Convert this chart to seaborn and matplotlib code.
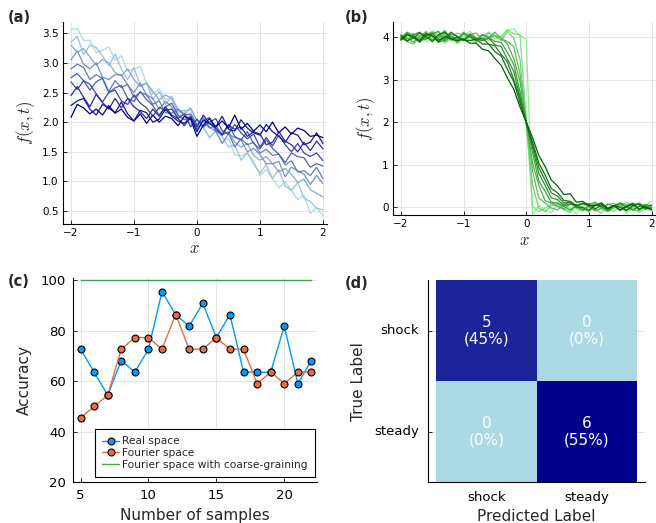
import numpy as np
import pandas as pd
import matplotlib
matplotlib.use("Agg")
import matplotlib.pyplot as plt
import seaborn as sns
from matplotlib.colors import LinearSegmentedColormap

# ---------------------------------
# Data
# ---------------------------------

x_grid = np.linspace(-2, 2, 41)

# (a) diffusion runs, light -> dark
a1 = [3.56, 3.58, 3.38, 3.38, 3.17, 3.21, 3.27, 3.05, 3.12, 2.86, 2.90, 2.94, 2.66, 2.48, 2.56, 2.38, 2.41, 2.15, 2.20, 2.20,
      1.94, 1.94, 1.74, 1.85, 1.65, 1.73, 1.45, 1.43, 1.48, 1.34, 1.10, 1.20, 1.04, 0.89, 0.99, 0.85, 0.69, 0.77, 0.46, 0.56, 0.42]
a2 = [3.35, 3.45, 3.14, 3.30, 3.26, 3.12, 2.95, 3.15, 2.90, 2.72, 2.92, 2.62, 2.66, 2.38, 2.52, 2.30, 2.44, 2.18, 2.20, 1.94,
      2.05, 1.90, 1.74, 1.85, 1.76, 1.58, 1.62, 1.36, 1.48, 1.30, 1.14, 1.28, 1.05, 1.20, 0.92, 0.85, 0.98, 0.72, 0.66, 0.55, 0.52]
a3 = [3.30, 3.18, 3.24, 3.10, 2.96, 3.06, 3.00, 2.84, 2.78, 2.90, 2.72, 2.60, 2.66, 2.52, 2.38, 2.46, 2.40, 2.22, 2.14, 2.24,
      2.02, 1.94, 2.00, 1.86, 1.78, 1.84, 1.66, 1.58, 1.64, 1.44, 1.36, 1.42, 1.30, 1.16, 1.22, 1.12, 0.98, 1.04, 0.86, 0.80, 0.74]
a4 = [3.05, 3.20, 2.98, 2.90, 3.00, 2.76, 2.72, 2.80, 2.80, 2.62, 2.50, 2.66, 2.46, 2.40, 2.22, 2.35, 2.26, 2.08, 2.14, 2.12,
      1.95, 2.08, 1.92, 1.84, 1.64, 1.80, 1.74, 1.70, 1.50, 1.56, 1.45, 1.30, 1.30, 1.34, 1.08, 1.24, 1.18, 1.12, 0.95, 1.10, 0.96]
a5 = [2.90, 2.98, 2.92, 2.72, 2.80, 2.74, 2.52, 2.70, 2.58, 2.64, 2.42, 2.50, 2.46, 2.30, 2.36, 2.16, 2.15, 2.22, 2.12, 2.14,
      1.96, 2.02, 1.90, 1.94, 1.80, 1.82, 1.58, 1.72, 1.62, 1.66, 1.48, 1.54, 1.44, 1.46, 1.28, 1.35, 1.16, 1.18, 1.10, 1.24, 1.05]
a6 = [2.75, 2.82, 2.70, 2.54, 2.68, 2.74, 2.50, 2.58, 2.62, 2.40, 2.35, 2.52, 2.38, 2.28, 2.12, 2.26, 2.32, 2.12, 2.04, 2.10,
      1.88, 2.02, 2.08, 1.86, 1.80, 1.96, 1.76, 1.70, 1.84, 1.64, 1.55, 1.70, 1.56, 1.46, 1.32, 1.48, 1.42, 1.40, 1.24, 1.30, 1.26]
a7 = [2.68, 2.55, 2.70, 2.64, 2.48, 2.34, 2.50, 2.54, 2.36, 2.30, 2.46, 2.32, 2.24, 2.10, 2.25, 2.20, 2.22, 2.06, 2.14, 1.92,
      2.05, 1.92, 2.00, 2.06, 1.86, 1.80, 1.96, 1.82, 1.72, 1.80, 1.58, 1.74, 1.60, 1.78, 1.62, 1.50, 1.64, 1.48, 1.42, 1.48, 1.35]
a8 = [2.45, 2.60, 2.42, 2.26, 2.47, 2.33, 2.22, 2.40, 2.24, 2.40, 2.26, 2.18, 2.06, 2.22, 2.10, 2.26, 2.12, 2.06, 1.94, 2.08,
      1.92, 2.12, 1.98, 1.90, 1.78, 1.95, 1.88, 1.92, 1.76, 1.84, 1.80, 1.62, 1.66, 1.84, 1.68, 1.62, 1.50, 1.66, 1.52, 1.68, 1.55]
a9 = [2.28, 2.36, 2.40, 2.22, 2.12, 2.30, 2.24, 2.16, 2.34, 2.14, 2.02, 2.20, 2.16, 2.00, 2.05, 2.22, 2.10, 2.02, 1.98, 2.08,
      1.84, 2.04, 1.98, 1.92, 2.10, 1.88, 1.85, 2.04, 1.90, 1.82, 1.78, 1.96, 1.84, 1.76, 1.66, 1.82, 1.78, 1.62, 1.66, 1.82, 1.64]
a10 = [2.08, 2.30, 2.24, 2.14, 2.22, 2.12, 2.28, 2.15, 2.22, 2.08, 2.02, 2.14, 1.98, 2.12, 2.00, 2.10, 2.06, 1.94, 2.10, 2.05,
       1.76, 1.95, 2.06, 1.92, 2.02, 1.90, 2.12, 1.88, 1.98, 1.85, 1.95, 1.84, 2.00, 1.82, 1.92, 1.80, 1.90, 1.86, 1.76, 1.78, 1.74]

# (b) shock runs, light -> dark
b1 = [4.05, 3.96, 4.10, 4.02, 3.90, 3.97, 4.12, 4.06, 3.94, 3.88, 4.02, 4.14, 3.98, 4.05, 3.92, 4.10, 4.00, 4.16, 4.20, 4.04,
      3.96, -0.18, 0.05, -0.08, -0.12, 0.06, 0.10, -0.02, -0.15, 0.02, 0.08, 0.12, -0.04, -0.10, 0.04, 0.06, -0.14, -0.02, 0.10, 0.04, 0.15]
b2 = [3.94, 4.02, 4.08, 3.92, 4.00, 4.15, 4.04, 3.86, 3.98, 4.10, 4.06, 3.93, 3.90, 4.04, 4.12, 3.96, 4.02, 4.18, 4.08, 4.06,
      2.05, 0.02, -0.10, -0.02, 0.08, 0.12, -0.04, -0.08, 0.05, 0.00, -0.12, 0.06, 0.10, -0.06, -0.10, 0.04, 0.12, 0.02, -0.12, -0.04, -0.08]
b3 = [4.02, 3.90, 3.84, 4.00, 4.08, 4.12, 3.96, 4.06, 3.92, 3.98, 4.12, 4.02, 3.88, 3.94, 4.10, 4.04, 3.92, 4.14, 3.98, 3.48,
      1.95, 0.52, -0.02, -0.10, 0.04, 0.08, -0.06, -0.12, 0.04, 0.10, 0.02, -0.06, -0.14, 0.06, 0.10, 0.00, -0.08, 0.04, 0.08, -0.04, 0.00]
b4 = [3.92, 4.08, 4.02, 3.96, 4.14, 3.90, 3.98, 4.10, 4.04, 3.86, 3.96, 4.06, 4.10, 3.94, 4.00, 4.12, 3.96, 3.90, 3.78, 3.14,
      2.04, 0.86, 0.22, 0.10, -0.02, -0.06, 0.06, 0.12, -0.02, -0.08, 0.02, 0.08, 0.04, -0.10, -0.02, 0.10, 0.06, -0.06, -0.08, 0.04, -0.02]
b5 = [4.06, 3.98, 3.88, 4.04, 4.10, 3.94, 4.02, 4.16, 3.96, 3.90, 4.08, 4.02, 3.92, 4.06, 4.00, 4.04, 3.98, 3.84, 3.50, 2.96,
      1.98, 1.04, 0.52, 0.16, 0.10, 0.02, -0.04, 0.08, 0.02, -0.08, 0.06, 0.12, -0.02, -0.10, 0.04, 0.06, -0.06, 0.02, 0.10, -0.02, 0.04]
b6 = [3.98, 4.12, 4.04, 3.92, 3.96, 4.08, 4.14, 3.90, 4.02, 3.94, 4.10, 4.00, 3.92, 4.06, 4.00, 3.90, 3.88, 3.64, 3.36, 2.72,
      2.00, 1.28, 0.62, 0.38, 0.12, 0.10, 0.02, -0.06, 0.04, 0.10, 0.02, -0.08, -0.02, 0.08, 0.02, -0.06, 0.04, 0.10, -0.06, 0.00, 0.05]
b7 = [4.00, 3.90, 4.06, 4.12, 3.96, 4.04, 3.88, 3.94, 4.08, 4.02, 3.92, 4.08, 3.98, 3.92, 3.98, 3.82, 3.78, 3.48, 3.20, 2.60,
      2.02, 1.40, 0.80, 0.52, 0.22, 0.18, 0.04, 0.08, 0.06, -0.04, -0.08, 0.04, 0.10, -0.02, 0.04, -0.08, 0.02, 0.08, 0.06, -0.04, 0.00]
b8 = [3.96, 4.08, 4.00, 3.88, 4.04, 4.10, 3.94, 3.98, 4.12, 4.02, 3.92, 4.04, 3.94, 3.98, 3.84, 3.80, 3.60, 3.42, 3.00, 2.58,
      1.96, 1.48, 0.94, 0.64, 0.34, 0.26, 0.10, 0.12, 0.00, 0.00, -0.06, 0.06, 0.02, -0.06, 0.04, 0.10, 0.00, -0.06, 0.02, 0.06, 0.04]
b9 = [4.04, 3.92, 3.98, 4.10, 4.02, 3.90, 4.06, 4.12, 3.96, 4.00, 3.94, 3.92, 3.96, 3.84, 3.84, 3.66, 3.56, 3.24, 2.96, 2.46,
      2.00, 1.54, 1.04, 0.76, 0.44, 0.34, 0.16, 0.14, 0.04, 0.08, 0.08, -0.04, 0.06, -0.02, 0.04, 0.00, -0.08, 0.04, 0.08, -0.02, -0.04]
b10 = [3.94, 4.06, 4.00, 3.92, 4.08, 4.04, 3.90, 4.02, 3.96, 3.92, 3.96, 3.86, 3.86, 3.72, 3.68, 3.50, 3.34, 3.04, 2.78, 2.36,
       2.00, 1.64, 1.22, 0.96, 0.64, 0.50, 0.30, 0.32, 0.12, 0.14, 0.04, 0.04, 0.10, -0.04, 0.04, -0.06, 0.02, 0.08, -0.04, 0.02, -0.06]

# (c) accuracy vs number of samples
samples = [5, 6, 7, 8, 9, 10, 11, 12, 13, 14, 15, 16, 17, 18, 19, 20, 21, 22]
real_acc = [72.7, 63.6, 54.5, 68.2, 63.6, 72.7, 95.5, 86.4, 81.8, 90.9, 77.3, 86.4, 63.6, 63.6, 63.6, 81.8, 59.1, 68.2]
fourier_acc = [45.5, 50.0, 54.5, 72.7, 77.3, 77.3, 72.7, 86.4, 72.7, 72.7, 77.3, 72.7, 72.7, 59.1, 63.6, 59.1, 63.6, 63.6]
coarse_acc = [100, 100, 100, 100, 100, 100, 100, 100, 100, 100, 100, 100, 100, 100, 100, 100, 100, 100]

# (d) confusion matrix
class_labels = ["shock", "steady"]
conf = [[5, 0], [0, 6]]

# ---------------------------------
# Style
# ---------------------------------

sns.set_style("white")
plt.rcParams["font.family"] = ["DejaVu Sans"]
plt.rcParams["mathtext.fontset"] = "cm"

GRID = "#e4e4e4"


def style_axes(ax, size, pad=3):
    ax.grid(True, color=GRID, lw=0.7)
    ax.set_axisbelow(True)
    for s in ["top", "right"]:
        ax.spines[s].set_visible(False)
    for s in ["left", "bottom"]:
        ax.spines[s].set_visible(True)
        ax.spines[s].set_color("black")
        ax.spines[s].set_linewidth(0.8)
    ax.tick_params(direction="in", length=3, width=0.6, labelsize=size, pad=pad,
                   colors="black", left=True, bottom=True)


def to_long(lines):
    frames = []
    for k, vals in enumerate(lines):
        frames.append(pd.DataFrame({"x": x_grid, "f": vals, "run": k}))
    return pd.concat(frames, ignore_index=True)


fig = plt.figure(figsize=(6.56, 5.23), dpi=100)

# ======================================================
# (a) Diffusion
# ======================================================

ax_a = fig.add_axes([0.096, 0.572, 0.402, 0.386])
blues = LinearSegmentedColormap.from_list("b", ["lightblue", "darkblue"])
df_a = to_long([a1, a2, a3, a4, a5, a6, a7, a8, a9, a10])
sns.lineplot(data=df_a, x="x", y="f", hue="run", estimator=None, sort=False,
             palette=[blues(t) for t in np.linspace(0, 1, 10)],
             legend=False, linewidth=0.9, ax=ax_a)
ax_a.set_xlim(-2.127, 2.06)
ax_a.set_ylim(0.285, 3.69)
ax_a.set_xticks([-2, -1, 0, 1, 2])
ax_a.set_xticklabels(["\u22122", "\u22121", "0", "1", "2"])
ax_a.set_yticks([0.5, 1.0, 1.5, 2.0, 2.5, 3.0, 3.5])
ax_a.set_xlabel(r"$x$", fontsize=12, labelpad=1)
ax_a.set_ylabel(r"$f(x,t)$", fontsize=12)
style_axes(ax_a, 7.5)

# ======================================================
# (b) Shock
# ======================================================

ax_b = fig.add_axes([0.599, 0.589, 0.401, 0.369])
greens = LinearSegmentedColormap.from_list("g", ["lightgreen", "darkgreen"])
df_b = to_long([b1, b2, b3, b4, b5, b6, b7, b8, b9, b10])
sns.lineplot(data=df_b, x="x", y="f", hue="run", estimator=None, sort=False,
             palette=[greens(t) for t in np.linspace(0, 1, 10)],
             legend=False, linewidth=0.9, ax=ax_b)
ax_b.set_xlim(-2.127, 2.07)
ax_b.set_ylim(-0.18, 4.36)
ax_b.set_xticks([-2, -1, 0, 1, 2])
ax_b.set_xticklabels(["\u22122", "\u22121", "0", "1", "2"])
ax_b.set_yticks([0, 1, 2, 3, 4])
ax_b.set_xlabel(r"$x$", fontsize=12, labelpad=1)
ax_b.set_ylabel(r"$f(x,t)$", fontsize=12)
style_axes(ax_b, 7.5)

# ======================================================
# (c) Accuracy
# ======================================================

ax_c = fig.add_axes([0.111, 0.078, 0.372, 0.390])
sns.lineplot(x=samples, y=real_acc, color="#009af9", marker="o", markersize=5,
             markeredgecolor="black", markeredgewidth=0.8, linewidth=1.0,
             label="Real space", ax=ax_c)
sns.lineplot(x=samples, y=fourier_acc, color="#e26f46", marker="o", markersize=5,
             markeredgecolor="black", markeredgewidth=0.8, linewidth=1.0,
             label="Fourier space", ax=ax_c)
sns.lineplot(x=samples, y=coarse_acc, color="#3da44d", linewidth=1.0,
             label="Fourier space with coarse-graining", ax=ax_c)
ax_c.set_xlim(4.43, 22.4)
ax_c.set_ylim(20, 100.8)
ax_c.set_xticks([5, 10, 15, 20])
ax_c.set_yticks([20, 40, 60, 80, 100])
ax_c.set_xlabel("Number of samples", fontsize=11)
ax_c.set_ylabel("Accuracy", fontsize=11, labelpad=6)
style_axes(ax_c, 9.5, pad=5)
leg = ax_c.legend(loc="lower left", bbox_to_anchor=(0.09, 0.025), fontsize=7.7,
                  frameon=True, fancybox=False, framealpha=1, edgecolor="black",
                  handlelength=1.6, handletextpad=0.2, labelspacing=0.15,
                  borderpad=0.7, borderaxespad=0)
leg.get_frame().set_linewidth(0.8)

# ======================================================
# (d) Confusion matrix
# ======================================================

ax_d = fig.add_axes([0.652, 0.078, 0.331, 0.386])
conf_df = pd.DataFrame(conf, index=class_labels, columns=class_labels)
total = conf_df.values.sum()
annot = [[f"{v}\n({100 * v / total:.0f}%)" for v in row] for row in conf]
sns.heatmap(conf_df, annot=annot, fmt="", cbar=False, vmin=0, vmax=6,
            cmap=blues, annot_kws={"color": "white", "fontsize": 11},
            linewidths=0, ax=ax_d)
ax_d.set_xlim(-0.083, 2.077)
ax_d.set_ylim(2, 0)
ax_d.set_xlabel("Predicted Label", fontsize=11)
ax_d.set_ylabel("True Label", fontsize=11, labelpad=6)
style_axes(ax_d, 9.5, pad=6)
ax_d.grid(True, axis="y", color=GRID, lw=0.7)
ax_d.grid(False, axis="x")
ax_d.set_yticklabels(class_labels, rotation=0)
ax_d.set_xticklabels(class_labels, rotation=0)

# panel letters
for lx, ly, txt in [(8, 18, "(a)"), (345, 17, "(b)"), (8, 282, "(c)"), (345, 283, "(d)")]:
    fig.text(lx / 656, 1 - ly / 523, txt, ha="left", va="center",
             fontweight="bold", fontsize=10.5)

fig.savefig("out.png", dpi=100)
